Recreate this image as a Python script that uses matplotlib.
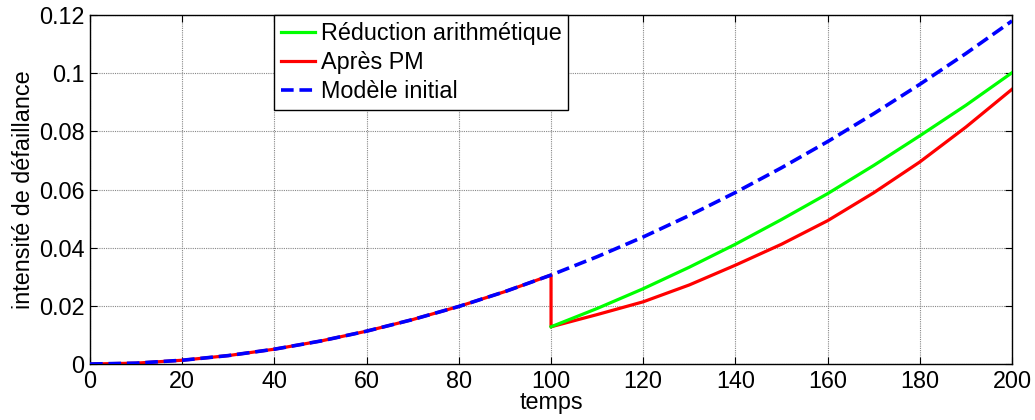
import matplotlib
matplotlib.use("Agg")
import matplotlib.pyplot as plt

plt.rcParams['font.family'] = ['Liberation Sans', 'DejaVu Sans']

# Initial model (0..200 step 10)
t_init = [0, 10, 20, 30, 40, 50, 60, 70, 80, 90, 100,
          110, 120, 130, 140, 150, 160, 170, 180, 190, 200]
y_init = [0.0, 0.0003, 0.0013, 0.0029, 0.0051, 0.0079, 0.0113, 0.0153, 0.0198, 0.0249, 0.0306,
          0.0369, 0.0437, 0.0511, 0.0590, 0.0675, 0.0765, 0.0861, 0.0962, 0.1068, 0.1180]

# After PM (follows initial model until 100, then drops)
t_pm = [0, 10, 20, 30, 40, 50, 60, 70, 80, 90, 100,
        100, 110, 120, 130, 140, 150, 160, 170, 180, 190, 200]
y_pm = [0.0, 0.0003, 0.0013, 0.0029, 0.0051, 0.0079, 0.0113, 0.0153, 0.0198, 0.0249, 0.0306,
        0.0128, 0.0170, 0.0214, 0.0272, 0.0340, 0.0412, 0.0493, 0.0589, 0.0695, 0.0815, 0.0945]

# Arithmetic reduction
t_ar = [100, 110, 120, 130, 140, 150, 160, 170, 180, 190, 200]
y_ar = [0.0128, 0.0191, 0.0259, 0.0333, 0.0412, 0.0497, 0.0586, 0.0683, 0.0785, 0.0890, 0.1002]

x_ticks = [0, 20, 40, 60, 80, 100, 120, 140, 160, 180, 200]
y_ticks = [0, 0.02, 0.04, 0.06, 0.08, 0.1, 0.12]
y_tick_labels = ['0', '0.02', '0.04', '0.06', '0.08', '0.1', '0.12']

FS = 16.8

fig = plt.figure(figsize=(10.35, 4.2), dpi=100)
ax = fig.add_axes([0.087, 0.1333, 0.8908, 0.8307])

ax.plot(t_ar, y_ar, color='#00ff00', lw=2.3, label='Réduction arithmétique', zorder=3)
ax.plot(t_pm, y_pm, color='#ff0000', lw=2.3, label='Après PM', zorder=2)
ax.plot(t_init, y_init, color='#0000ff', lw=2.6, linestyle=(0, (3.5, 1.6)),
        label='Modèle initial', zorder=4)

ax.set_xlim(0, 200)
ax.set_ylim(0, 0.12)
ax.set_xticks(x_ticks)
ax.set_yticks(y_ticks)
ax.set_yticklabels(y_tick_labels)
ax.tick_params(direction='in', top=True, right=True, length=5, width=0.8,
               labelsize=FS, colors='black')
ax.tick_params(axis='x', pad=4)
ax.tick_params(axis='y', pad=4)
ax.grid(True, color='#888888', linestyle=(0, (1, 1)), linewidth=0.8)
for s in ax.spines.values():
    s.set_linewidth(1.0)
    s.set_color('black')

ax.set_xlabel('temps', fontsize=FS, labelpad=-1)
ax.set_ylabel('intensité de défaillance', fontsize=FS, labelpad=3)

leg = ax.legend(loc='upper left', bbox_to_anchor=(0.1996, 1.0), fontsize=FS,
                frameon=True, fancybox=False, edgecolor='black', framealpha=1,
                handlelength=1.45, handletextpad=0.25, borderpad=0.3,
                labelspacing=0.25, borderaxespad=0)
leg.get_frame().set_linewidth(1.0)

fig.savefig('out.png', dpi=100)
